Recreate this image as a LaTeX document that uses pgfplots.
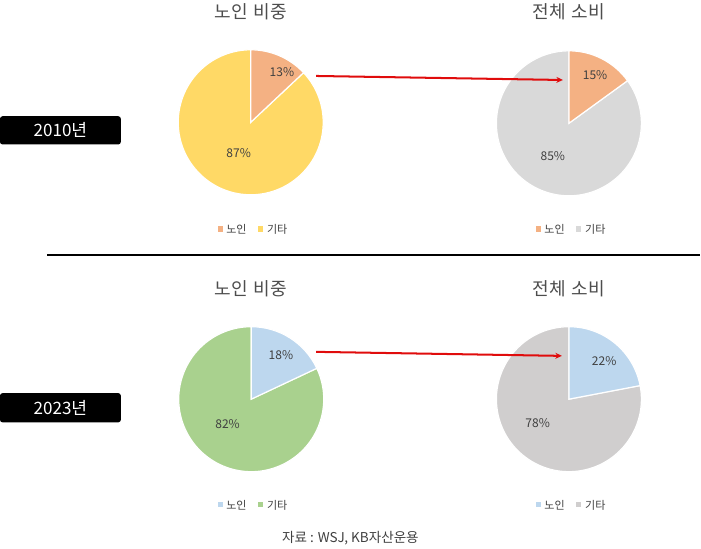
\documentclass[border=0pt]{standalone}
\usepackage{pgfplots}
\pgfplotsset{compat=1.18}
\usepackage{fontspec}
\setmainfont{Noto Sans CJK KR}
\usetikzlibrary{arrows.meta}

\definecolor{cOld}{HTML}{F4B183}
\definecolor{cEtcY}{HTML}{FFD966}
\definecolor{cGrey}{HTML}{D9D9D9}
\definecolor{cGrey2}{HTML}{D0CECE}
\definecolor{cBlue}{HTML}{BDD7EE}
\definecolor{cGreen}{HTML}{A9D18E}
\definecolor{cTitle}{HTML}{4D4D4D}
\definecolor{cLab}{HTML}{404040}
\definecolor{cArrow}{HTML}{E00C0C}

% pie: center x, center y, share of 노인 (%), colour 노인, colour 기타
\newcommand{\pie}[5]{%
  \fill[#5, draw=white, line width=1.2bp] (axis cs:#1,#2) -- ++({90-3.6*#3}:72bp)
    arc[start angle={90-3.6*#3}, end angle=-270, radius=72bp] -- cycle;
  \fill[#4, draw=white, line width=1.2bp] (axis cs:#1,#2) -- ++(90:72bp)
    arc[start angle=90, end angle={90-3.6*#3}, radius=72bp] -- cycle;
}
% legend: x of first square, y, colour 1, colour 2
\newcommand{\leg}[4]{%
  \fill[#3] (axis cs:#1-2.5,#2-2.5) rectangle ++(5bp,5bp);
  \node[anchor=west, font=\fontsize{11}{12}\selectfont, text=cLab, inner sep=0pt] at (axis cs:#1+5.5,#2) {노인};
  \fill[#4] (axis cs:#1+37.5,#2-2.5) rectangle ++(5bp,5bp);
  \node[anchor=west, font=\fontsize{11}{12}\selectfont, text=cLab, inner sep=0pt] at (axis cs:#1+46,#2) {기타};
}
\newcommand{\gap}{\hspace{0.33em}}

\begin{document}
\begin{tikzpicture}
\begin{axis}[
  scale only axis,
  width=701bp, height=552bp,
  xmin=0, xmax=701, ymin=0, ymax=552,
  hide axis,
  clip=false,
]
% titles
\node[text=cTitle, font=\fontsize{18}{19}\selectfont] at (axis cs:252,538) {노인\gap 비중};
\node[text=cTitle, font=\fontsize{18}{19}\selectfont] at (axis cs:568,538) {전체\gap 소비};
\node[text=cTitle, font=\fontsize{18}{19}\selectfont] at (axis cs:252,263) {노인\gap 비중};
\node[text=cTitle, font=\fontsize{18}{19}\selectfont] at (axis cs:568,263) {전체\gap 소비};

% 2010
\pie{252}{428}{13}{cOld}{cEtcY}
\pie{568}{427}{15}{cOld}{cGrey}
% 2023
\pie{252.5}{153}{18}{cBlue}{cGreen}
\pie{568}{153}{22}{cBlue}{cGrey2}

% slice labels
\begin{scope}[every node/.style={text=cLab, font=\fontsize{12}{13}\selectfont}]
\node at (axis cs:283,478) {13\%};
\node at (axis cs:240,397) {87\%};
\node at (axis cs:594,475) {15\%};
\node at (axis cs:552,394) {85\%};
\node at (axis cs:282,197) {18\%};
\node at (axis cs:229,128) {82\%};
\node at (axis cs:603,191) {22\%};
\node at (axis cs:537,129) {78\%};
\end{scope}

% arrows
\draw[cArrow, line width=2bp, -{Stealth[length=6.5bp,width=6bp]}] (axis cs:317,474) -- (axis cs:562,470);
\draw[cArrow, line width=2bp, -{Stealth[length=6.5bp,width=6bp]}] (axis cs:317,200) -- (axis cs:561,196);

% legends
\leg{222}{322}{cOld}{cEtcY}
\leg{538}{322}{cOld}{cGrey}
\leg{222}{48}{cBlue}{cGreen}
\leg{538}{48}{cBlue}{cGrey2}

% separator
\draw[black, line width=2.4bp] (axis cs:50,296) -- (axis cs:698,296);

% year boxes
\fill[black, rounded corners=2.5bp] (axis cs:3,406) rectangle (axis cs:123,434);
\node[text=white, font=\fontsize{17}{18}\selectfont] at (axis cs:63,420) {2010년};
\fill[black, rounded corners=2.5bp] (axis cs:3,130) rectangle (axis cs:123,159);
\node[text=white, font=\fontsize{17}{18}\selectfont] at (axis cs:63,144.5) {2023년};

% source
\node[text=cLab, font=\fontsize{13.5}{14}\selectfont] at (axis cs:351,15) {자료 : WSJ, KB자산운용};
\end{axis}
\end{tikzpicture}
\end{document}
